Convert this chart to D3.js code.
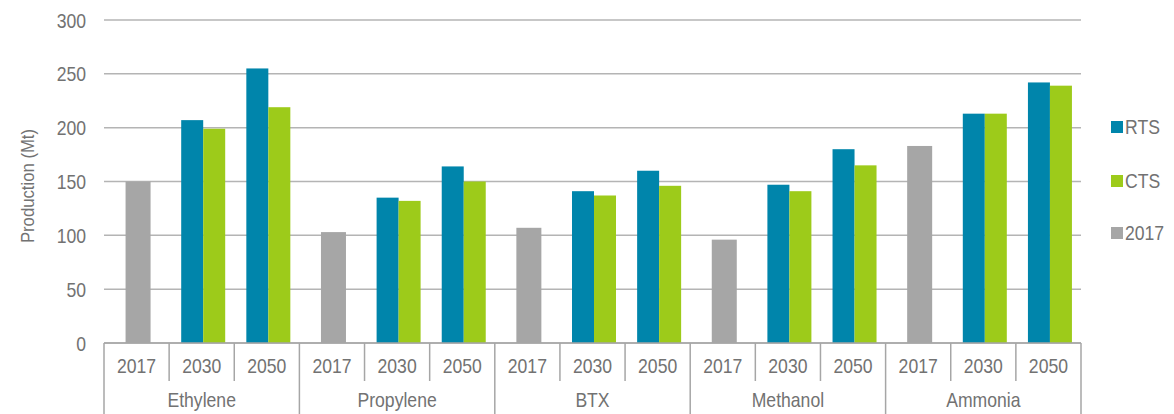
<!DOCTYPE html>
<html>
<head>
<meta charset="utf-8">
<script src="https://cdn.jsdelivr.net/npm/d3@7"></script>
<style>
  html, body { margin: 0; padding: 0; background: #fff; }
  svg { display: block; }
  text { font-family: "Liberation Sans", Arial, sans-serif; fill: #727272; }
</style>
</head>
<body>
<svg id="chart" width="1174" height="414"></svg>
<script>
// ---- Data ----
const categories = ["Ethylene", "Propylene", "BTX", "Methanol", "Ammonia"];
const years = ["2017", "2030", "2050"];
const base2017 = [150, 103, 107, 96, 183];
const rts2030 = [207, 135, 141, 147, 213];
const cts2030 = [199, 132, 137, 141, 213];
const rts2050 = [255, 164, 160, 180, 242];
const cts2050 = [219, 150, 146, 165, 239];
const yTicks = [0, 50, 100, 150, 200, 250, 300];
const seriesNames = ["RTS", "CTS", "2017"];
const seriesColors = ["#0085ab", "#9dcb1a", "#a6a6a6"];

// ---- Layout ----
const svg = d3.select("#chart");
const x0 = 104, x1 = 1081, yTop = 20, yBase = 343;
const FS = 20, SX = 0.88;
const place = (x, yy) => `translate(${x},${yy}) scale(${SX},1)`;

const y = d3.scaleLinear().domain([0, 300]).range([yBase, yTop]);
const xCat = d3.scaleBand().domain(categories).range([x0, x1]).padding(0);
const xYear = d3.scaleBand().domain(years).range([0, xCat.bandwidth()]).padding(0);

// gridlines
svg.append("g").selectAll("line").data(yTicks).join("line")
  .attr("x1", x0).attr("x2", x1)
  .attr("y1", d => y(d)).attr("y2", d => y(d))
  .attr("stroke", "#b4b4b4").attr("stroke-width", 1.5);

// y tick labels
svg.append("g").selectAll("text").data(yTicks).join("text")
  .attr("transform", d => place(86, y(d) + 7.5))
  .attr("text-anchor", "end").attr("font-size", FS)
  .text(d => d);

// y axis title
svg.append("text")
  .attr("transform", `translate(34,186) rotate(-90) scale(${SX},1)`)
  .attr("text-anchor", "middle").attr("font-size", 19)
  .text("Production (Mt)");

// bars
const barData = [];
categories.forEach((c, i) => {
  barData.push({ c, yr: "2017", s: 2, v: base2017[i], w: 25, off: 0 });
  barData.push({ c, yr: "2030", s: 0, v: rts2030[i], w: 22, off: -22 });
  barData.push({ c, yr: "2030", s: 1, v: cts2030[i], w: 22, off: 0 });
  barData.push({ c, yr: "2050", s: 0, v: rts2050[i], w: 22, off: -22 });
  barData.push({ c, yr: "2050", s: 1, v: cts2050[i], w: 22, off: 0 });
});
svg.append("g").selectAll("rect").data(barData).join("rect")
  .attr("x", d => {
    const cx = xCat(d.c) + xYear(d.yr) + xYear.bandwidth() / 2 + 1.5;
    return d.s === 2 ? cx - d.w / 2 : cx + d.off;
  })
  .attr("y", d => y(d.v))
  .attr("width", d => d.w)
  .attr("height", d => yBase - y(d.v))
  .attr("fill", d => seriesColors[d.s]);

// category axis
const axisG = svg.append("g");
axisG.append("line").attr("x1", x0).attr("x2", x1).attr("y1", yBase).attr("y2", yBase)
  .attr("stroke", "#a6a6a6").attr("stroke-width", 1.5);
const groupEdges = categories.map(c => xCat(c)).concat([x1]);
axisG.selectAll("line.g").data(groupEdges).join("line").attr("class", "g")
  .attr("x1", d => d).attr("x2", d => d).attr("y1", yBase).attr("y2", 414)
  .attr("stroke", "#a6a6a6").attr("stroke-width", 1.5);
const inner = [];
categories.forEach(c => { years.slice(1).forEach(yr => inner.push(xCat(c) + xYear(yr))); });
axisG.selectAll("line.i").data(inner).join("line").attr("class", "i")
  .attr("x1", d => d).attr("x2", d => d).attr("y1", yBase).attr("y2", 381)
  .attr("stroke", "#a6a6a6").attr("stroke-width", 1.5);
const yearLabels = [];
categories.forEach(c => years.forEach(yr => yearLabels.push({ c, yr })));
axisG.selectAll("text.y").data(yearLabels).join("text").attr("class", "y")
  .attr("transform", d => place(xCat(d.c) + xYear(d.yr) + xYear.bandwidth() / 2, 373))
  .attr("text-anchor", "middle").attr("font-size", FS)
  .text(d => d.yr);
axisG.selectAll("text.c").data(categories).join("text").attr("class", "c")
  .attr("transform", d => place(xCat(d) + xCat.bandwidth() / 2, 407))
  .attr("text-anchor", "middle").attr("font-size", FS)
  .text(d => d);

// legend
const legendY = [127, 181, 233];
const lg = svg.append("g").selectAll("g").data(seriesNames).join("g")
  .attr("transform", (d, i) => `translate(1111,${legendY[i]})`);
lg.append("rect").attr("x", 0).attr("y", -6).attr("width", 12).attr("height", 12)
  .attr("fill", (d, i) => seriesColors[i]);
lg.append("text").attr("transform", place(14, 7)).attr("font-size", FS).text(d => d);
</script>
</body>
</html>
